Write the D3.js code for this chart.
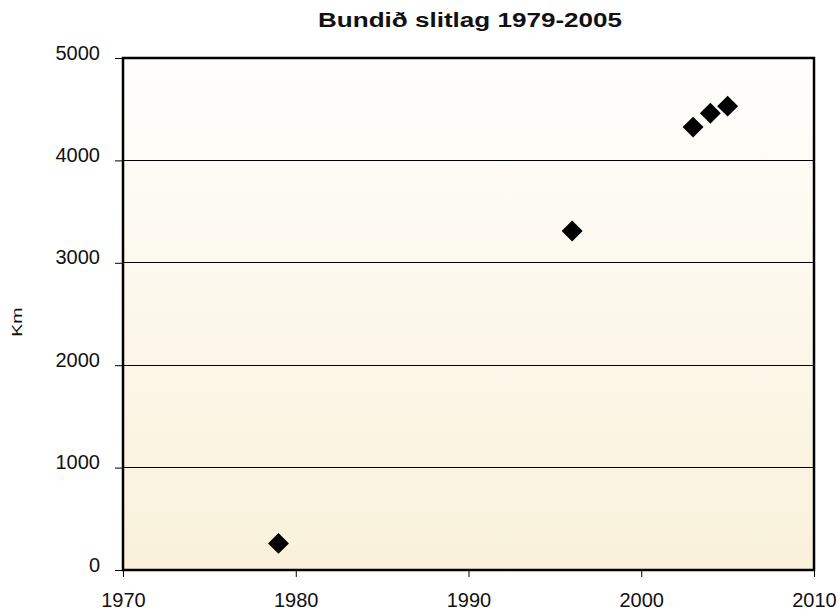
<!DOCTYPE html>
<html><head><meta charset="utf-8">
<script src="https://cdn.jsdelivr.net/npm/d3@7"></script>
<style>body{margin:0;background:#fff;} text{font-family:"Liberation Sans",Arial,Helvetica,sans-serif;}</style>
</head><body>
<svg id="c" width="840" height="613"></svg>
<script>
const years = [1979, 1996, 2003, 2004, 2005];
const km = [260, 3310, 4325, 4460, 4530];
const xTicks = [1970, 1980, 1990, 2000, 2010];
const yTicks = [0, 1000, 2000, 3000, 4000, 5000];
const title = "Bundið slitlag 1979-2005";
const yLabel = "Km";

const svg = d3.select("#c");
const L = 123, R = 814, T = 58, B = 570;
const x = d3.scaleLinear().domain([1970, 2010]).range([L, R]);
const y = d3.scaleLinear().domain([0, 5000]).range([B, T]);

const defs = svg.append("defs");
const g = defs.append("linearGradient").attr("id","bg").attr("x1",0).attr("y1",0).attr("x2",0).attr("y2",1);
g.append("stop").attr("offset","0%").attr("stop-color","#fffefc");
g.append("stop").attr("offset","100%").attr("stop-color","#f9f1da");
svg.append("rect").attr("x",L).attr("y",T).attr("width",R-L).attr("height",B-T).attr("fill","url(#bg)");

// gridlines
svg.append("g").selectAll("line").data(yTicks.filter(d=>d>0 && d<5000)).join("line")
  .attr("x1",L).attr("x2",R).attr("y1",d=>y(d)).attr("y2",d=>y(d))
  .attr("stroke","#000").attr("stroke-width",1).attr("shape-rendering","crispEdges");

// axes
const yAxis = d3.axisLeft(y).tickValues(yTicks).tickSize(8).tickPadding(15).tickFormat(d3.format("d"));
const ya = svg.append("g").attr("transform",`translate(${L},0)`).call(yAxis);
ya.select(".domain").remove();
ya.selectAll("line").attr("stroke","#000");
ya.selectAll("text").attr("font-size",20).attr("fill","#111").attr("dy","0.05em").attr("font-family","Liberation Sans, Arial, sans-serif");

const xAxis = d3.axisBottom(x).tickValues(xTicks).tickSize(7).tickPadding(16).tickFormat(d3.format("d"));
const xa = svg.append("g").attr("transform",`translate(0,${B})`).call(xAxis);
xa.select(".domain").remove();
xa.selectAll("line").attr("stroke","#000");
xa.selectAll("text").attr("font-size",20).attr("fill","#111").attr("font-family","Liberation Sans, Arial, sans-serif");

// frame
svg.append("rect").attr("x",L).attr("y",T).attr("width",R-L).attr("height",B-T)
  .attr("fill","none").attr("stroke","#000").attr("stroke-width",2.5);

// points
const sym = d3.symbol().type(d3.symbolSquare).size(220);
svg.append("g").selectAll("path").data(years.map((yr,i)=>({yr, v:km[i]}))).join("path")
  .attr("d", sym)
  .attr("transform", d=>`translate(${x(d.yr)},${y(d.v)}) rotate(45)`)
  .attr("fill","#000");

// title
svg.append("text").attr("x",470).attr("y",27).attr("text-anchor","middle")
  .attr("font-size",20).attr("font-weight","bold").attr("fill","#111")
  .attr("textLength",304).attr("lengthAdjust","spacingAndGlyphs").text(title);

// y label
svg.append("text").attr("transform","translate(22,322) rotate(-90) scale(1.4,1)").attr("text-anchor","middle")
  .attr("font-size",14).attr("fill","#111").text(yLabel);
</script>
</body></html>
